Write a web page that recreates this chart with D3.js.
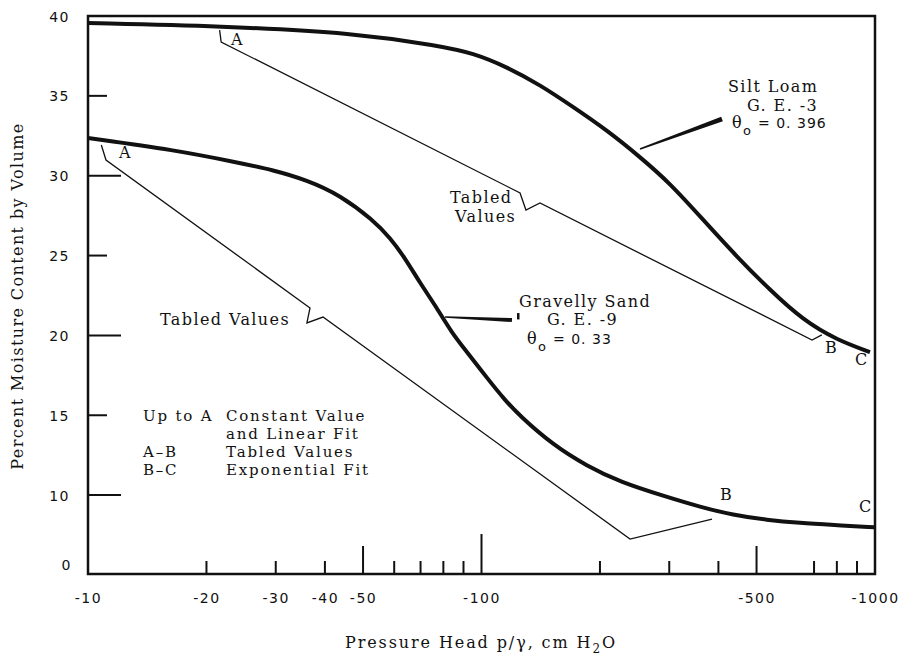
<!DOCTYPE html>
<html>
<head>
<meta charset="utf-8">
<script src="https://cdnjs.cloudflare.com/ajax/libs/d3/7.8.5/d3.min.js"></script>
<style>
  body { margin: 0; background: #fff; }
  text { fill: #111; }
  .serif { font-family: "DejaVu Serif", serif; font-size: 16px; letter-spacing: 1.4px; }
  .key { font-family: "DejaVu Serif", serif; font-size: 15px; letter-spacing: 1.8px; }
  .num { font-family: "DejaVu Sans", sans-serif; font-size: 14px; letter-spacing: 1.5px; }
</style>
</head>
<body>
<div id="chart"></div>
<script>
// pressure head magnitudes in cm H2O (axis shows them negative), log scale
var pressureLabels = [10, 20, 30, 40, 50, 100, 500, 1000];
var pressureTicks = [20, 30, 40, 50, 60, 70, 80, 90, 100, 200, 300, 400, 500, 700, 800, 900];
var moistureTicks = [10, 15, 20, 25, 30, 35, 40];

// Silt Loam G.E.-3, theta_o = 0.396 (thick curve)
var siltLoamHead = [10, 21.8, 47.7, 78.4, 95.1, 116, 141, 171, 208, 253, 301, 366, 446, 541, 656, 801, 971];
var siltLoamTheta = [39.56, 39.37, 38.94, 38.12, 37.68, 36.81, 35.68, 34.3, 32.86, 31.17, 29.54, 27.23, 24.91, 22.84, 20.96, 19.71, 18.96];
// Silt Loam tabled values A-B (thin line, with the break mark)
var siltTabledHead = [21.6, 21.8, 125.3, 129.7, 140.8, 691.8, 732.6];
var siltTabledTheta = [39.12, 38.37, 28.92, 27.85, 28.29, 19.71, 20.03];

// Gravelly Sand G.E.-9, theta_o = 0.33 (thick curve)
var sandHead = [10, 16.6, 24.3, 29.5, 36, 43.7, 53, 58.6, 63.9, 69.8, 76.2, 84.1, 91.9, 103.3, 114.7, 125.3, 152, 185.4, 224.9, 296.1, 359.2, 435.6, 531.6, 644.8, 782.1, 1000];
var sandTheta = [32.36, 31.61, 30.8, 30.36, 29.73, 28.79, 27.23, 26.1, 24.85, 23.28, 21.9, 20.15, 18.96, 17.33, 15.95, 14.95, 13.14, 11.82, 10.82, 9.88, 9.26, 8.75, 8.44, 8.25, 8.13, 7.98];
// Gravelly Sand tabled values A-B
var sandTabledHead = [10.81, 11.11, 36.66, 36.0, 39.56, 238.5, 385.3];
var sandTabledTheta = [31.92, 30.98, 21.72, 20.78, 21.15, 7.25, 8.5];

var svgWidth = 904;
var svgHeight = 662;

var margin = { top: 16, right: 29, bottom: 88, left: 88 };
var width = svgWidth - margin.left - margin.right;
var height = svgHeight - margin.top - margin.bottom;

var svg = d3.select("#chart")
  .append("svg")
  .attr("width", svgWidth)
  .attr("height", svgHeight);

var chartGroup = svg.append("g")
  .attr("transform", `translate(${margin.left}, ${margin.top})`);

// scales: bottom of frame is a broken axis (labelled 0)
var xLogScale = d3.scaleLog()
  .domain([10, 1000])
  .range([0, width]);

var yLinearScale = d3.scaleLinear()
  .domain([5.06, 40])
  .range([height, 0]);

function zip(xs, ys) {
  return xs.map((d, i) => [d, ys[i]]);
}

var smoothLine = d3.line()
  .x(d => xLogScale(d[0]))
  .y(d => yLinearScale(d[1]))
  .curve(d3.curveBasis);

var straightLine = d3.line()
  .x(d => xLogScale(d[0]))
  .y(d => yLinearScale(d[1]));

// axis labels (no tick lines from d3, ticks drawn inside below)
var bottomAxis = d3.axisBottom(xLogScale)
  .tickValues(pressureLabels)
  .tickSize(0)
  .tickPadding(19)
  .tickFormat(d => "-" + d);

var leftAxis = d3.axisLeft(yLinearScale)
  .tickValues(moistureTicks)
  .tickSize(0)
  .tickPadding(18);

var xAxisG = chartGroup.append("g")
  .attr("transform", `translate(0, ${height})`)
  .call(bottomAxis);

var yAxisG = chartGroup.append("g")
  .call(leftAxis);

[xAxisG, yAxisG].forEach(function (g) {
  g.select(".domain").remove();
  g.selectAll("text")
    .attr("class", "num")
    .attr("fill", "#111");
});
yAxisG.selectAll("text").attr("dy", "0.36em");

// the "0" at the broken bottom of the y axis
chartGroup.append("text")
  .attr("class", "num")
  .attr("x", -16)
  .attr("y", height - 4)
  .attr("text-anchor", "end")
  .text("0");

// inside ticks on x axis
chartGroup.append("g")
  .selectAll("line")
  .data(pressureTicks)
  .enter()
  .append("line")
  .attr("x1", d => xLogScale(d))
  .attr("x2", d => xLogScale(d))
  .attr("y1", height)
  .attr("y2", d => height - (d === 100 ? 40 : (d === 50 || d === 500) ? 28 : 13))
  .attr("stroke", "#111")
  .attr("stroke-width", 2);

// inside ticks on y axis
chartGroup.append("g")
  .selectAll("line")
  .data(moistureTicks.filter(d => d < 40))
  .enter()
  .append("line")
  .attr("x1", 0)
  .attr("x2", d => d % 10 === 0 ? 33 : 19)
  .attr("y1", d => yLinearScale(d))
  .attr("y2", d => yLinearScale(d))
  .attr("stroke", "#111")
  .attr("stroke-width", 2);

// frame
chartGroup.append("rect")
  .attr("width", width)
  .attr("height", height)
  .attr("fill", "none")
  .attr("stroke", "#111")
  .attr("stroke-width", 2.5);

// thin tabled-value lines
chartGroup.append("path")
  .datum(zip(siltTabledHead, siltTabledTheta))
  .attr("d", straightLine)
  .attr("fill", "none")
  .attr("stroke", "#111")
  .attr("stroke-width", 1.3);

chartGroup.append("path")
  .datum(zip(sandTabledHead, sandTabledTheta))
  .attr("d", straightLine)
  .attr("fill", "none")
  .attr("stroke", "#111")
  .attr("stroke-width", 1.3);

// thick fitted curves
chartGroup.append("path")
  .datum(zip(siltLoamHead, siltLoamTheta))
  .attr("d", smoothLine)
  .attr("fill", "none")
  .attr("stroke", "#111")
  .attr("stroke-width", 4);

chartGroup.append("path")
  .datum(zip(sandHead, sandTheta))
  .attr("d", smoothLine)
  .attr("fill", "none")
  .attr("stroke", "#111")
  .attr("stroke-width", 4);

// tapered leader lines from curve to its label
function wedge(p1, p2, w1, w2) {
  var x1 = xLogScale(p1[0]), y1 = yLinearScale(p1[1]);
  var x2 = xLogScale(p2[0]), y2 = yLinearScale(p2[1]);
  var len = Math.hypot(x2 - x1, y2 - y1);
  var nx = -(y2 - y1) / len, ny = (x2 - x1) / len;
  return `M${x1 + nx * w1 / 2},${y1 + ny * w1 / 2}L${x2 + nx * w2 / 2},${y2 + ny * w2 / 2}` +
    `L${x2 - nx * w2 / 2},${y2 - ny * w2 / 2}L${x1 - nx * w1 / 2},${y1 - ny * w1 / 2}Z`;
}

chartGroup.append("path")
  .attr("d", wedge([252.8, 31.67], [408.5, 33.55], 1.5, 5))
  .attr("fill", "#111");

chartGroup.append("path")
  .attr("d", wedge([80.8, 21.15], [119.5, 20.96], 1.5, 4))
  .attr("fill", "#111");

chartGroup.append("line")
  .attr("x1", xLogScale(124))
  .attr("x2", xLogScale(124))
  .attr("y1", yLinearScale(21.4))
  .attr("y2", yLinearScale(21.0))
  .attr("stroke", "#111")
  .attr("stroke-width", 2.5);

// text annotations (page pixel positions)
var notes = [
  { t: "A", x: 231, y: 45 },
  { t: "A", x: 119, y: 158 },
  { t: "B", x: 825, y: 353 },
  { t: "C", x: 855, y: 365 },
  { t: "B", x: 720, y: 500 },
  { t: "C", x: 859, y: 512 },
  { t: "Tabled Values", x: 160, y: 325 },
  { t: "Tabled", x: 450, y: 203 },
  { t: "Values", x: 455, y: 222 },
  { t: "Silt Loam", x: 728, y: 92 },
  { t: "G. E. -3", x: 747, y: 111 },
  { t: "Gravelly Sand", x: 519, y: 307 },
  { t: "G. E. -9", x: 547, y: 325 }
];

svg.append("g")
  .selectAll("text")
  .data(notes)
  .enter()
  .append("text")
  .attr("class", "serif")
  .attr("x", d => d.x)
  .attr("y", d => d.y)
  .text(d => d.t);

// key to the line segments
var keyRows = [
  { a: "Up to A", b: "Constant Value", y: 421 },
  { a: "", b: "and Linear Fit", y: 439 },
  { a: "A\u2013B", b: "Tabled Values", y: 457 },
  { a: "B\u2013C", b: "Exponential Fit", y: 475 }
];

var keyG = svg.append("g");
keyRows.forEach(function (r) {
  if (r.a) {
    keyG.append("text").attr("class", "key").attr("x", 143).attr("y", r.y).text(r.a);
  }
  keyG.append("text").attr("class", "key").attr("x", 226).attr("y", r.y).text(r.b);
});

// theta_o labels
function thetaLabel(x, y, value) {
  var t = svg.append("text")
    .attr("class", "serif")
    .attr("x", x)
    .attr("y", y);
  t.append("tspan").text("\u03b8");
  t.append("tspan")
    .attr("dy", 7)
    .style("font-family", "DejaVu Sans")
    .style("font-size", "13px")
    .text("o");
  svg.append("text")
    .attr("class", "num")
    .style("letter-spacing", "1px")
    .attr("x", x + 26)
    .attr("y", y)
    .text("= " + value);
}
thetaLabel(732, 128, "0. 396");
thetaLabel(527, 344, "0. 33");

// axis titles
var xTitle = svg.append("text")
  .attr("class", "serif")
  .style("letter-spacing", "1.9px")
  .attr("text-anchor", "middle")
  .attr("x", 481)
  .attr("y", 648);
xTitle.append("tspan").text("Pressure Head p/\u03b3, cm H");
xTitle.append("tspan").attr("dy", 5).style("font-size", "12px").text("2");
xTitle.append("tspan").attr("dy", -5).text("O");

svg.append("text")
  .attr("class", "serif")
  .attr("text-anchor", "middle")
  .attr("transform", "translate(23, 296) rotate(-90)")
  .text("Percent Moisture Content by Volume");
</script>
</body>
</html>
